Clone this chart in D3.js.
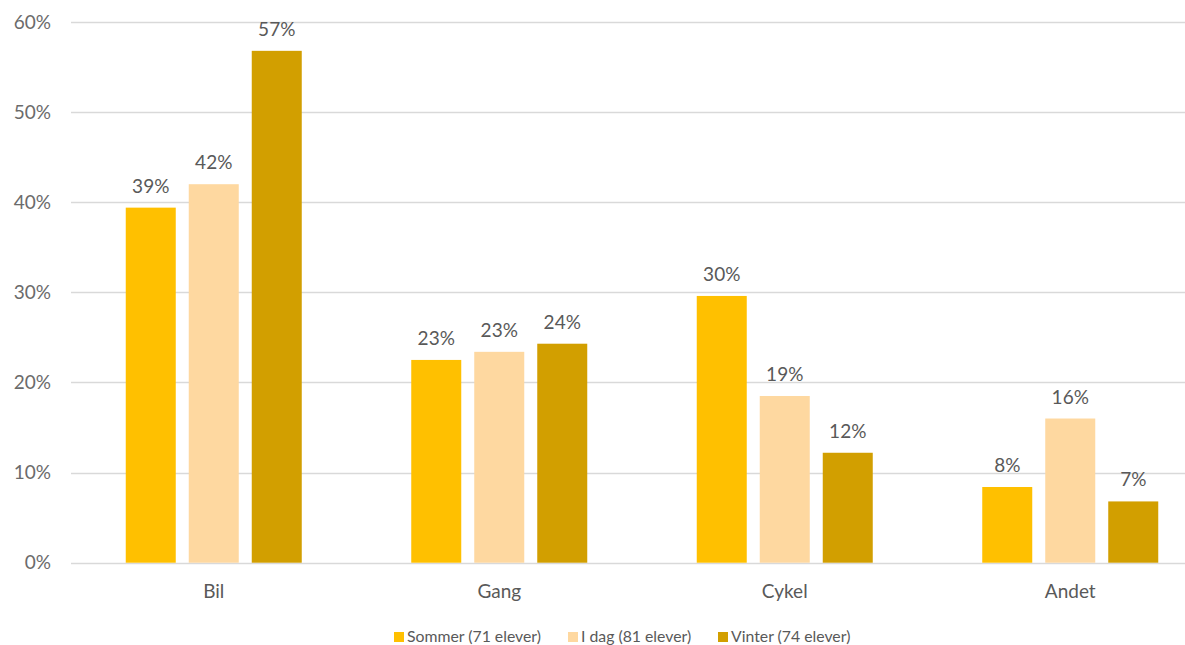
<!DOCTYPE html>
<html>
<head>
<meta charset="utf-8">
<script src="https://cdn.jsdelivr.net/npm/d3@7"></script>
<style>
  html, body { margin: 0; padding: 0; background: #fff; }
  svg { display: block; font-family: Lato, 'Open Sans', sans-serif; }
</style>
</head>
<body>
<svg id="chart"></svg>
<script>
// categories and series
const categories = ['Bil', 'Gang', 'Cykel', 'Andet']
const seriesNames = ['Sommer (71 elever)', 'I dag (81 elever)', 'Vinter (74 elever)']
const sommer = [39.4, 22.5, 29.6, 8.4]
const idag = [42.0, 23.4, 18.5, 16.0]
const vinter = [56.8, 24.3, 12.2, 6.8]
const yTicks = [0, 10, 20, 30, 40, 50, 60]
const colors = ['#FFC000', '#FED8A0', '#D29F00']

const width = 1185
const height = 645
const margin = { top: 22, right: -28, bottom: 82, left: 71 }

const svg = d3.select('#chart').attr('width', width).attr('height', height)

const x = d3
  .scaleBand()
  .domain(categories)
  .range([margin.left, width - margin.right])

// bars inside a group: 50px wide, 13px apart
const xInner = d3
  .scaleBand()
  .domain(seriesNames)
  .range([0, 176])
  .paddingInner(13 / 63)

const y = d3
  .scaleLinear()
  .domain([0, 60])
  .range([height - margin.bottom - 0.3, margin.top])

// gridlines
svg
  .append('g')
  .attr('id', 'grid')
  .selectAll('line')
  .data(yTicks)
  .join('line')
  .attr('x1', margin.left)
  .attr('x2', width)
  .attr('y1', (d) => Math.round(y(d)) + 0.5)
  .attr('y2', (d) => Math.round(y(d)) + 0.5)
  .attr('stroke', '#D9D9D9')
  .attr('stroke-width', 1.3)

// y axis labels
svg
  .append('g')
  .attr('id', 'yAxis')
  .selectAll('text')
  .data(yTicks)
  .join('text')
  .attr('x', 51)
  .attr('y', (d) => y(d))
  .attr('dy', '0.35em')
  .attr('text-anchor', 'end')
  .attr('fill', '#6b6b6b')
  .attr('font-size', 19)
  .text((d) => d + '%')

// bars
const seriesData = [sommer, idag, vinter]
const groups = svg
  .append('g')
  .attr('id', 'bars')
  .selectAll('g')
  .data(categories)
  .join('g')
  .attr('transform', (d) => `translate(${x(d) + x.bandwidth() / 2 - 88},0)`)

groups.each(function (cat, ci) {
  const g = d3.select(this)
  const vals = seriesNames.map((s, si) => ({ s, si, v: seriesData[si][ci] }))
  g.selectAll('rect')
    .data(vals)
    .join('rect')
    .attr('x', (d) => xInner(d.s))
    .attr('width', xInner.bandwidth())
    .attr('y', (d) => y(d.v))
    .attr('height', (d) => y(0) - y(d.v))
    .attr('fill', (d) => colors[d.si])

  g.selectAll('text')
    .data(vals)
    .join('text')
    .attr('x', (d) => xInner(d.s) + xInner.bandwidth() / 2)
    .attr('y', (d) => y(d.v) - 15)
    .attr('text-anchor', 'middle')
    .attr('fill', '#595959')
    .attr('font-size', 19)
    .text((d) => Math.round(d.v) + '%')
})

// category labels
svg
  .append('g')
  .attr('id', 'xAxis')
  .selectAll('text')
  .data(categories)
  .join('text')
  .attr('x', (d) => x(d) + x.bandwidth() / 2)
  .attr('y', 598)
  .attr('text-anchor', 'middle')
  .attr('fill', '#595959')
  .attr('font-size', 19)
  .text((d) => d)

// legend
const legendX = [394, 568, 718]
const legend = svg
  .append('g')
  .attr('id', 'legend')
  .selectAll('g')
  .data(seriesNames)
  .join('g')
  .attr('transform', (d, i) => `translate(${legendX[i]},632)`)

legend
  .append('rect')
  .attr('width', 10)
  .attr('height', 10)
  .attr('fill', (d, i) => colors[i])

legend
  .append('text')
  .attr('x', 13)
  .attr('y', 10)
  .attr('fill', '#595959')
  .attr('font-size', 15.8)
  .text((d) => d)
</script>
</body>
</html>
